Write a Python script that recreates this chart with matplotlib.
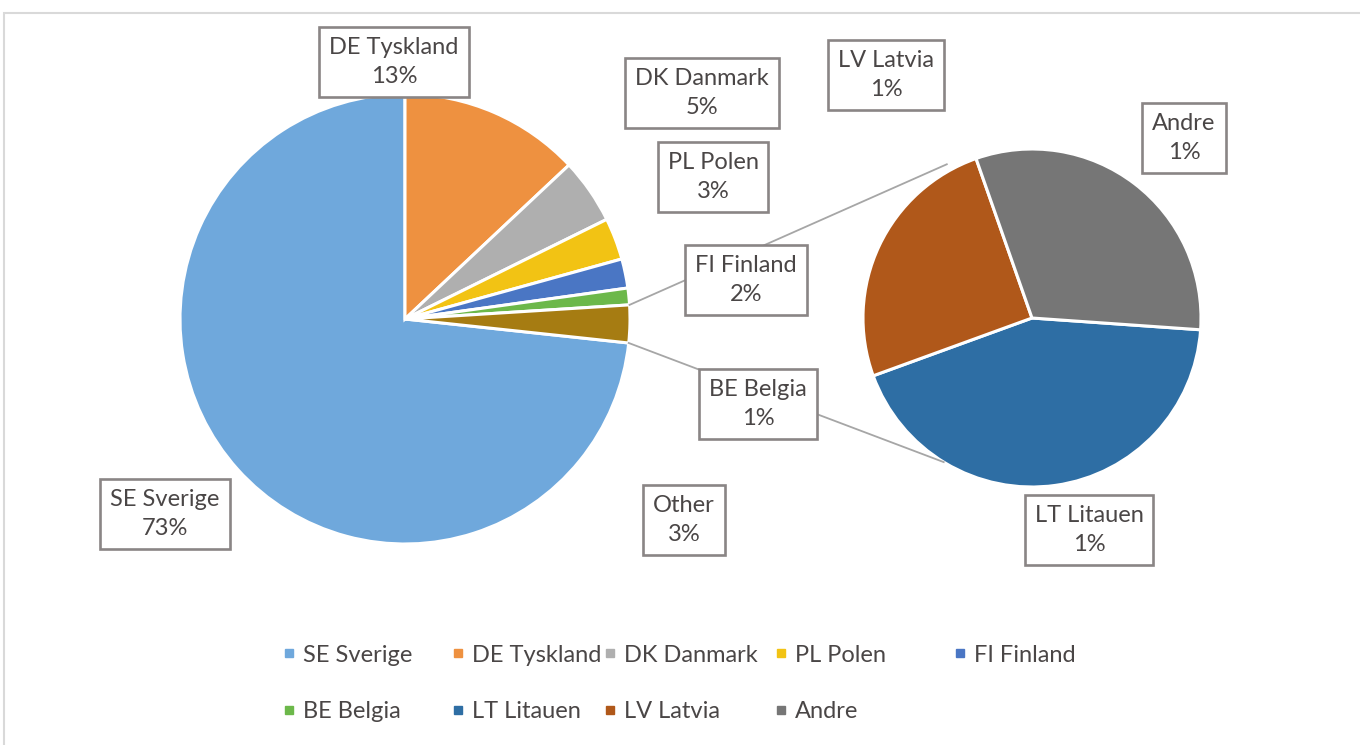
import matplotlib
matplotlib.use("Agg")
import matplotlib.pyplot as plt
from matplotlib.patches import Rectangle
from matplotlib.lines import Line2D
from matplotlib.legend import Legend
import numpy as np

plt.rcParams['font.family'] = ['Lato', 'DejaVu Sans']

# ---------------- data ----------------
main_names = ["SE Sverige", "DE Tyskland", "DK Danmark", "PL Polen", "FI Finland", "BE Belgia", "Other"]
main_values = [73.3, 13.0, 4.7, 3.0, 2.1, 1.2, 2.7]
main_colors = ["#6FA8DC", "#EE9140", "#AFAFAF", "#F2C314", "#4A76C4", "#6CB84A", "#A67C12"]

sub_names = ["LT Litauen", "LV Latvia", "Andre"]
sub_values = [1.17, 0.68, 0.85]
sub_colors = ["#2E6EA4", "#B0581A", "#767676"]

legend_names = main_names[:-1] + sub_names
legend_colors = main_colors[:-1] + sub_colors

# ---------------- layout (pixel coordinates, y from top) ----------------
W, H = 1360, 745
main_center = (405, 319)
main_radius = 225
sub_center = (1032, 318)
sub_radius = 169
sub_start = -4.0

main_label_pos = [(165, 514), (394, 62), (702, 93), (713, 177), (746, 280), (758, 404), (684, 520)]
sub_label_pos = [(1089, 530), (886, 75), (1184, 138)]

legend_pos = [(289, 655), (458, 655), (610, 655), (781, 655), (960, 655),
              (289, 712), (458, 712), (610, 712), (781, 712)]

TEXT = "#4a4646"
BOXEDGE = "#8a8585"
LABEL_FS = 17
LEGEND_FS = 17


def P(x, y):
    return (x, H - y)


fig = plt.figure(figsize=(W / 100, H / 100), dpi=100)
ax = fig.add_axes([0, 0, 1, 1])
ax.set_xlim(0, W)
ax.set_ylim(0, H)
ax.set_aspect('equal')
ax.axis('off')

# chart border
fig.patches.append(Rectangle((4 / W, -0.05), 1.1, 1 - 13 / H + 0.05, transform=fig.transFigure,
                             fill=False, ec="#d9d9d9", lw=1.5, zorder=0))

# main pie: SE ends at 12 o'clock, others follow clockwise
start_main = 90 + 360 * main_values[0] / sum(main_values)
wedges_main, _ = ax.pie(main_values, colors=main_colors, center=P(*main_center), radius=main_radius,
                        startangle=start_main, counterclock=False,
                        wedgeprops=dict(edgecolor="white", linewidth=2.2), frame=True)

wedges_sub, _ = ax.pie(sub_values, colors=sub_colors, center=P(*sub_center), radius=sub_radius,
                       startangle=sub_start, counterclock=False,
                       wedgeprops=dict(edgecolor="white", linewidth=2.2), frame=True)
ax.set_xlim(0, W)
ax.set_ylim(0, H)
ax.axis('off')

# connector lines from the "Other" slice to the secondary pie
other = wedges_main[-1]
mc = np.array(P(*main_center))
sc = np.array(P(*sub_center))
for ang_main, ang_sub, rf in [(other.theta2, 119.0, 1.04), (other.theta1, -121.5, 1.0)]:
    a = np.radians(ang_main)
    b = np.radians(ang_sub)
    p0 = mc + main_radius * np.array([np.cos(a), np.sin(a)])
    p1 = sc + sub_radius * rf * np.array([np.cos(b), np.sin(b)])
    ax.plot([p0[0], p1[0]], [p0[1], p1[1]], color="#a6a6a6", lw=1.3, zorder=1)

bbox = dict(boxstyle="square,pad=0.42", fc="white", ec=BOXEDGE, lw=1.9)
for name, v, pos in zip(main_names, main_values, main_label_pos):
    ax.text(*P(*pos), f"{name}\n{round(v)}%", ha="center", va="center", fontsize=LABEL_FS,
            color=TEXT, linespacing=1.5, bbox=bbox, zorder=6)
for name, v, pos in zip(sub_names, sub_values, sub_label_pos):
    ax.text(*P(*pos), f"{name}\n{max(1, round(v))}%", ha="center", va="center", fontsize=LABEL_FS,
            color=TEXT, linespacing=1.5, bbox=bbox, zorder=6)

# legend entries
for name, col, pos in zip(legend_names, legend_colors, legend_pos):
    h = Line2D([], [], marker="s", ls="none", color=col, markersize=5.5)
    x, y = P(*pos)
    leg = Legend(ax, [h], [name], loc="center left", bbox_to_anchor=(x - 5, y),
                 bbox_transform=ax.transData, frameon=False, fontsize=LEGEND_FS,
                 handlelength=0.45, handletextpad=0.35, borderpad=0, borderaxespad=0,
                 labelcolor=TEXT)
    ax.add_artist(leg)

fig.savefig("out.png", dpi=100, facecolor="white")
